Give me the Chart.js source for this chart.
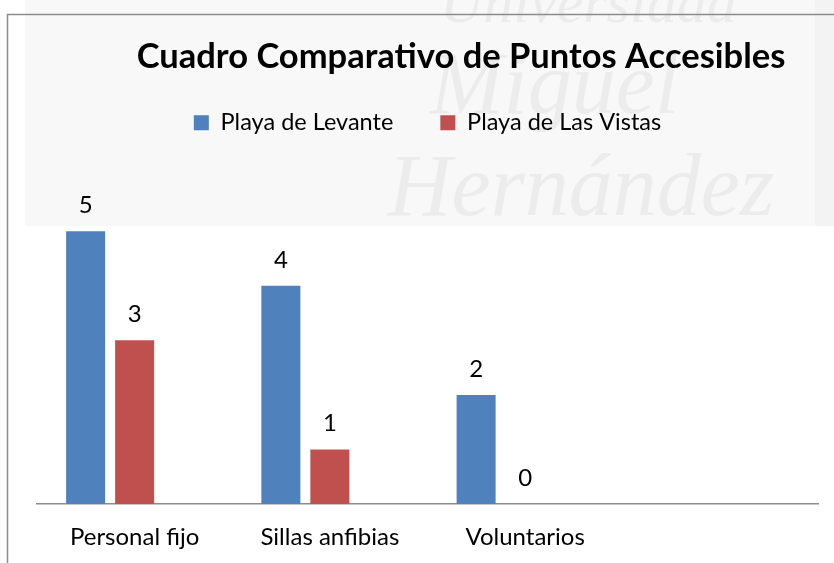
<!DOCTYPE html>
<html>
<head>
<meta charset="utf-8">
<script src="https://cdn.jsdelivr.net/npm/chart.js@4.4.1/dist/chart.umd.min.js"></script>
<style>
  html, body { margin: 0; padding: 0; background: #fff; }
  #wrap { width: 834px; height: 563px; }
</style>
</head>
<body>
<div id="wrap"><canvas id="myChart" width="834" height="563"></canvas></div>
<script>
// Chart data
const categories = ['Personal fijo', 'Sillas anfibias', 'Voluntarios', ''];
const levante = [5, 4, 2, null];
const lasVistas = [3, 1, 0, null];
const emptySeries = [null, null, null, null]; // third (empty) series of the sheet, keeps the bar spacing
const seriesNames = ['Playa de Levante', 'Playa de Las Vistas', ''];
const chartTitle = 'Cuadro Comparativo de Puntos Accesibles';

const FONT = 'Lato, "Open Sans", sans-serif';

// frame + faint watermark behind the chart
const backdrop = {
    id: 'backdrop',
    beforeDraw(chart) {
        const c = chart.ctx;
        c.save();
        c.fillStyle = '#ffffff';
        c.fillRect(0, 0, chart.width, chart.height);
        c.fillStyle = '#f8f8f8';
        c.fillRect(25, 0, 790, 226);
        c.fillStyle = '#f3f3f3';
        c.fillRect(815, 0, 19, 226);
        c.fillStyle = '#ececec';
        c.font = 'italic 88px "Liberation Serif"';
        c.fillText('Miguel', 430, 90);
        c.fillText('Hernández', 388, 192);
        c.font = 'italic 60px "Liberation Serif"';
        c.fillText('Universidad', 440, 6);
        c.strokeStyle = '#8c8c8c';
        c.lineWidth = 1.5;
        c.beginPath();
        c.moveTo(7.5, chart.height);
        c.lineTo(7.5, 14.5);
        c.lineTo(chart.width, 14.5);
        c.stroke();
        c.restore();
    }
};

// title (sits right of centre, as in the sheet)
const titleText = {
    id: 'titleText',
    afterDraw(chart) {
        const c = chart.ctx;
        c.save();
        c.font = 'bold 34.5px ' + FONT;
        c.fillStyle = '#000';
        c.textAlign = 'center';
        c.textBaseline = 'middle';
        c.fillText(chartTitle, 461, 57);
        c.restore();
    }
};

// value labels above the bars
const valueLabels = {
    id: 'valueLabels',
    afterDatasetsDraw(chart) {
        const c = chart.ctx;
        c.save();
        c.font = '24px ' + FONT;
        c.fillStyle = '#000';
        c.textAlign = 'center';
        c.textBaseline = 'middle';
        [0, 1].forEach(di => {
            const meta = chart.getDatasetMeta(di);
            meta.data.forEach((bar, i) => {
                const v = chart.data.datasets[di].data[i];
                if (v === null || v === undefined) return;
                c.fillText(String(v), bar.x, bar.y - 26);
            });
        });
        c.restore();
    }
};

const ctx = document.getElementById('myChart').getContext('2d');
const myChart = new Chart(ctx, {
    type: 'bar',
    data: {
        labels: categories,
        datasets: [
            { label: seriesNames[0], data: levante, backgroundColor: '#4f81bd' },
            { label: seriesNames[1], data: lasVistas, backgroundColor: '#c0504d' },
            { label: seriesNames[2], data: emptySeries, backgroundColor: 'rgba(0,0,0,0)' }
        ]
    },
    options: {
        responsive: false,
        animation: false,
        barPercentage: 0.796,
        categoryPercentage: 0.753,
        layout: { padding: { left: 37, right: 16, top: 64, bottom: 0 } },
        plugins: {
            title: { display: false },
            tooltip: { enabled: false },
            legend: {
                display: true,
                position: 'top',
                labels: {
                    filter: item => item.datasetIndex < 2,
                    boxWidth: 15,
                    boxHeight: 15,
                    padding: 47,
                    color: '#000',
                    font: { family: FONT, size: 23.5 }
                }
            }
        },
        scales: {
            x: {
                grid: { display: false, drawTicks: false },
                border: { display: true, color: '#8c8c8c', width: 1.5 },
                ticks: { color: '#000', padding: 19, font: { family: FONT, size: 24 } },
                afterFit(scale) { scale.height = 59; }
            },
            y: {
                display: false,
                min: 0,
                max: 6.59
            }
        }
    },
    plugins: [backdrop, titleText, valueLabels]
});
</script>
</body>
</html>
